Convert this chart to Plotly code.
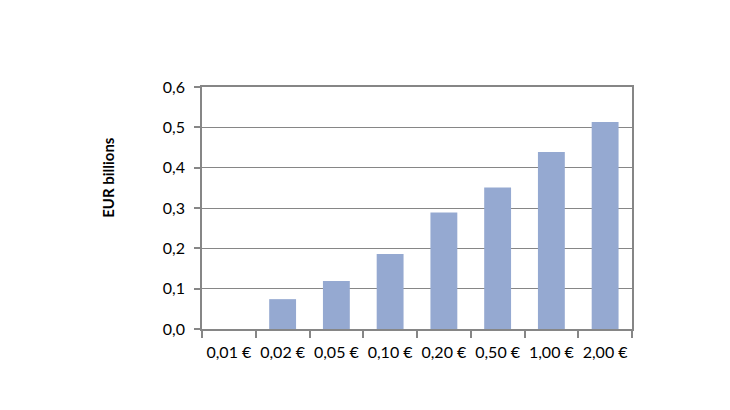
import plotly.graph_objects as go

coins = ['0,01 €', '0,02 €', '0,05 €', '0,10 €', '0,20 €', '0,50 €', '1,00 €', '2,00 €']
eur_billions = [0.0, 0.074, 0.119, 0.186, 0.289, 0.351, 0.439, 0.513]

fig = go.Figure()
fig.add_trace(go.Bar(
    x=coins, y=eur_billions,
    marker=dict(color='#95A9D1', line=dict(width=0)),
    width=0.5,
))

# page body adds 8px, so margins are shifted a bit
fig.update_layout(
    width=730, height=410,
    margin=dict(l=194, r=106, t=79, b=89),
    paper_bgcolor='white', plot_bgcolor='white',
    separators=', ',
    font=dict(family='Lato, Open Sans, sans-serif', size=16, color='black'),
    showlegend=False,
    bargap=0.5,
)
fig.update_xaxes(
    showline=True, linecolor='#868686', linewidth=1.5, mirror=True,
    ticks='outside', tickson='boundaries', ticklen=7, tickcolor='#868686', tickwidth=1.5,
    ticklabelstandoff=8, tickangle=0,
    showgrid=False,
)
fig.update_yaxes(
    range=[0, 0.6], dtick=0.1, tickformat='.1f',
    showline=True, linecolor='#868686', linewidth=1.5, mirror=True,
    ticks='outside', ticklen=6, tickcolor='#868686', tickwidth=1.5,
    ticklabelstandoff=6,
    gridcolor='#868686', gridwidth=1.2, zeroline=False,
)
fig.add_annotation(
    text='<b>EUR billions</b>', textangle=-90, showarrow=False,
    xref='paper', yref='paper', x=-0.219, y=0.628, xanchor='center', yanchor='middle',
    font=dict(size=15),
)

fig.write_html("out.html")
